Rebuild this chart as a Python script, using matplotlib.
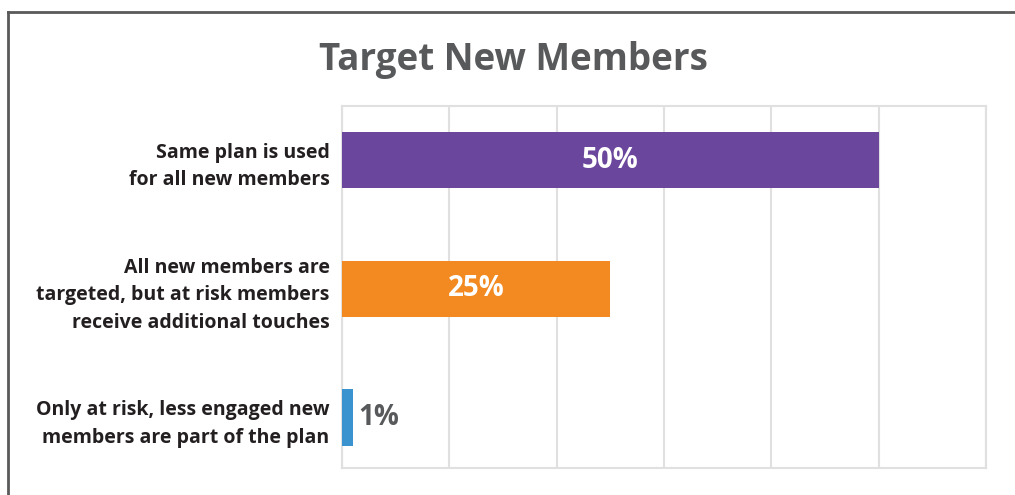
import matplotlib
matplotlib.use('Agg')
import matplotlib.pyplot as plt
from matplotlib.lines import Line2D

# dados do grafico
categorias = [
    'Same plan is used\nfor all new members',
    'All new members are\ntargeted, but at risk members\nreceive additional touches',
    'Only at risk, less engaged new\nmembers are part of the plan',
]
valores = [50, 25, 1]
cores = ['#6a479c', '#f28a21', '#3a93cf']
titulo = 'Target New Members'

plt.rcParams['font.family'] = ['Open Sans', 'DejaVu Sans']

fig = plt.figure(figsize=(10.15, 4.95), dpi=100)
W, H = 1015, 495
ax = fig.add_axes([342 / W, 1 - 468 / H, (986 - 342) / W, (468 - 106) / H])

pos = list(range(len(categorias)))
ax.barh(pos, valores, height=0.44, color=cores, zorder=3)
ax.set_xlim(0, 60)
ax.set_ylim(2.39, -0.42)
ax.set_xticks(range(0, 61, 10))
ax.grid(axis='x', color='#e0e0e0', linewidth=1.5, zorder=0)
ax.tick_params(length=0, labelbottom=False)
for s in ax.spines.values():
    s.set_color('#e0e0e0')
    s.set_linewidth(1.5)

ax.set_yticks(pos)
ax.set_yticklabels(categorias, fontsize=14, fontweight='bold', color='#231f20',
                   linespacing=1.5)
ax.tick_params(axis='y', pad=9)

# rotulos de valor
for i, v in enumerate(valores):
    if v >= 10:
        ax.text(v / 2, i, f'{v}%', ha='center', va='center', color='white',
                fontsize=20, fontweight='bold', zorder=4)
    else:
        ax.text(v + 0.5, i, f'{v}%', ha='left', va='center', color='#58595b',
                fontsize=20, fontweight='bold', zorder=4)

fig.text(513 / W, 1 - 60 / H, titulo, ha='center', va='center', fontsize=26.5,
         fontweight='bold', color='#58595b')

# moldura externa (so esquerda e topo aparecem)
fig.add_artist(Line2D([8 / W, 8 / W], [0, 1 - 12 / H], transform=fig.transFigure,
                      color='#5a5a5a', linewidth=2))
fig.add_artist(Line2D([8 / W, 1], [1 - 12 / H, 1 - 12 / H], transform=fig.transFigure,
                      color='#5a5a5a', linewidth=2))

fig.savefig('out.png', dpi=100)
